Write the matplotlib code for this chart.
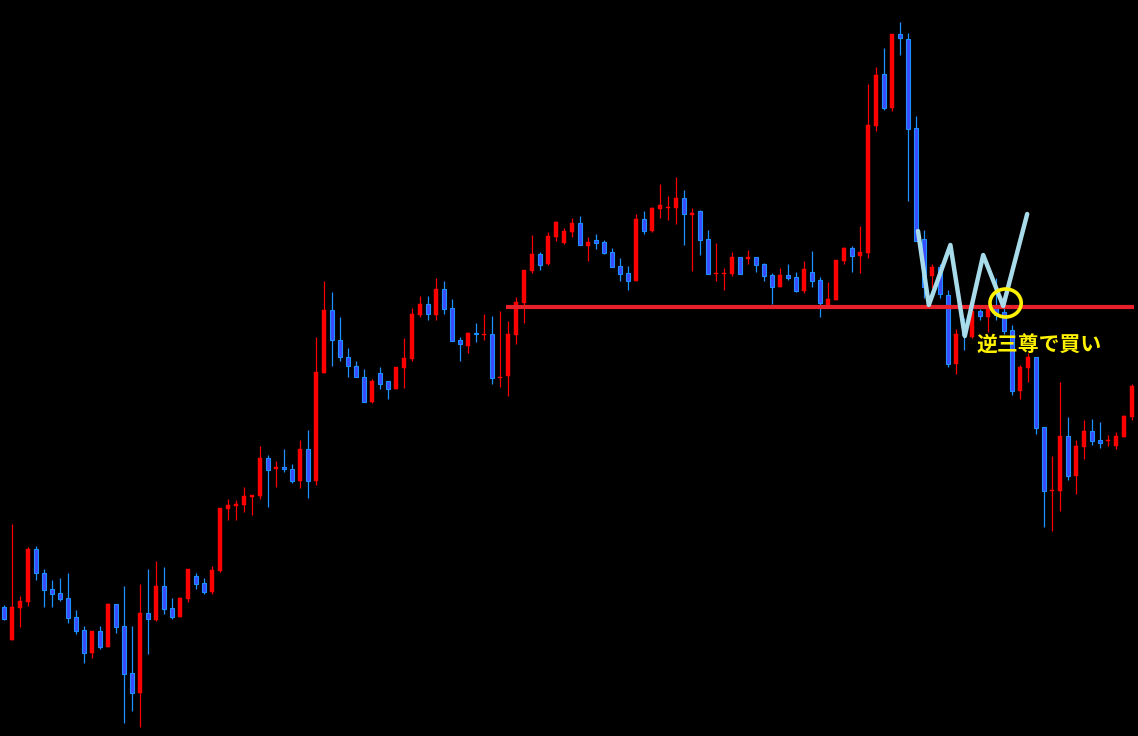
import matplotlib
matplotlib.use("Agg")
import matplotlib.pyplot as plt
from matplotlib.patches import Ellipse
import numpy as np

# OHLC values (arbitrary price units), one per candle
opens = [129, 96, 128, 134, 187, 163, 147, 143, 138, 119, 106, 83, 105, 89, 132, 110, 63, 43, 123, 116,
         150, 128, 119, 137, 160, 153, 144, 165, 227, 230, 231, 239, 240, 278, 267, 269, 267, 255, 287, 255,
         363, 426, 396, 379, 370, 359, 334, 363, 355, 347, 368, 377, 421, 432, 421, 447, 428, 396, 390, 403,
         401, 402, 358, 360, 401, 433, 465, 482, 472, 499, 493, 504, 513, 490, 496, 494, 484, 470, 463, 455,
         517, 505, 527, 528, 528, 538, 521, 525, 497, 462, 462, 462, 479, 477, 479, 472, 461, 449, 461, 459,
         445, 464, 456, 431, 436, 475, 488, 480, 483, 610, 662, 628, 702, 697, 608, 497, 460, 469, 441, 372,
         406, 399, 425, 419, 431, 424, 406, 345, 368, 379, 309, 245, 245, 300, 260, 289, 305, 296, 295, 290,
         299, 319]
highs = [131, 212, 140, 189, 190, 167, 156, 158, 163, 126, 110, 105, 110, 133, 132, 150, 110, 152, 167, 175,
         169, 138, 139, 167, 163, 158, 170, 228, 237, 236, 249, 241, 290, 281, 275, 287, 272, 296, 306, 399,
         455, 444, 419, 388, 375, 367, 357, 369, 355, 369, 398, 428, 440, 440, 458, 455, 437, 399, 404, 413,
         422, 420, 425, 415, 439, 466, 501, 484, 504, 515, 508, 518, 520, 499, 502, 496, 488, 478, 470, 522,
         525, 529, 552, 540, 559, 546, 528, 526, 506, 493, 468, 484, 479, 486, 479, 473, 463, 468, 472, 464,
         475, 485, 459, 454, 476, 489, 490, 510, 652, 669, 688, 702, 714, 703, 620, 506, 472, 472, 446, 407,
         418, 427, 427, 431, 458, 433, 411, 371, 383, 379, 309, 280, 354, 319, 296, 316, 317, 314, 301, 304,
         321, 352]
lows = [116, 96, 109, 130, 156, 129, 129, 135, 113, 102, 73, 78, 87, 89, 103, 13, 25, 9, 82, 115,
        122, 117, 119, 134, 147, 142, 142, 164, 216, 216, 224, 221, 237, 229, 249, 264, 253, 248, 238, 251,
        363, 370, 375, 359, 359, 334, 333, 347, 337, 347, 348, 375, 419, 416, 416, 422, 395, 375, 383, 394,
        396, 352, 349, 340, 392, 413, 463, 466, 471, 495, 492, 499, 491, 475, 487, 482, 469, 455, 446, 455,
        502, 504, 518, 516, 512, 491, 465, 481, 462, 455, 446, 460, 462, 472, 464, 455, 432, 449, 456, 444,
        443, 449, 419, 429, 436, 472, 464, 463, 478, 605, 626, 625, 681, 535, 495, 438, 448, 438, 369, 362,
        386, 398, 416, 404, 416, 402, 341, 337, 354, 302, 209, 205, 225, 256, 242, 277, 291, 288, 290, 287,
        299, 316]
closes = [117, 129, 135, 187, 163, 146, 142, 137, 118, 105, 83, 105, 89, 132, 109, 62, 43, 123, 117, 150,
          127, 119, 138, 167, 152, 144, 166, 228, 231, 232, 240, 241, 278, 266, 269, 267, 255, 287, 255, 364,
          426, 396, 379, 370, 359, 334, 355, 352, 347, 369, 378, 422, 432, 422, 447, 427, 395, 392, 403, 402,
          402, 358, 359, 402, 434, 466, 482, 471, 500, 514, 505, 513, 491, 494, 493, 483, 469, 462, 455, 517,
          505, 528, 531, 529, 538, 522, 523, 496, 462, 463, 463, 479, 462, 479, 471, 460, 449, 461, 458, 445,
          467, 455, 433, 437, 476, 488, 480, 484, 611, 661, 628, 702, 698, 607, 495, 449, 469, 442, 372, 402,
          401, 425, 420, 428, 421, 405, 345, 369, 379, 308, 245, 246, 300, 260, 290, 305, 295, 293, 296, 300,
          320, 350]

# annotation data
neckline_level = 429
neckline_span = [62.7, 141.2]
w_x = [114.25, 115.6, 118.3, 120.1, 122.4, 124.9, 127.9]
w_y = [505, 431, 491, 400, 481, 430, 522]
buy_point = (125.2, 433)
label_text = "逆三尊で買い"

UP_COLOR = "#FF0000"
DOWN_FILL = "#3B4CFF"
DOWN_EDGE = "#1E90FF"

fig = plt.figure(figsize=(11.38, 7.36), dpi=100, facecolor="black")
ax = fig.add_axes([0, 0, 1, 1])
ax.set_facecolor("black")

o = np.array(opens, float)
h = np.array(highs, float)
l = np.array(lows, float)
c = np.array(closes, float)
x = np.arange(len(o))
up = c >= o

# wicks
ax.vlines(x[up], l[up], h[up], color=UP_COLOR, linewidth=0.9, zorder=2)
ax.vlines(x[~up], l[~up], h[~up], color=DOWN_EDGE, linewidth=0.9, zorder=2)

# bodies
bottom = np.minimum(o, c)
height = np.maximum(np.abs(c - o), 1.2)
ax.bar(x[up], height[up], bottom=bottom[up], width=0.6, color=UP_COLOR,
       edgecolor=UP_COLOR, linewidth=0.3, zorder=3)
ax.bar(x[~up], height[~up], bottom=bottom[~up], width=0.6, color=DOWN_FILL,
       edgecolor=DOWN_EDGE, linewidth=0.8, zorder=3)

# neckline
ax.hlines(neckline_level, neckline_span[0], neckline_span[1], color="#E8202A",
          linewidth=3.0, zorder=4)

# inverse head & shoulders sketch
ax.plot(w_x, w_y, color="#A9DCEA", linewidth=3.2, solid_joinstyle="round",
        solid_capstyle="round", zorder=5)

# buy point circle
ax.add_patch(Ellipse(buy_point, width=3.9, height=28, fill=False,
                     edgecolor="#FFF200", linewidth=2.6, zorder=6))

ax.text(121.6, 391, label_text, color="#FFF200", fontsize=15, fontweight="bold",
        family=["Noto Sans CJK JP", "DejaVu Sans"], ha="left", va="center", zorder=7)

ax.set_xlim(-0.5, 141.75)
ax.set_ylim(0, 736)
ax.axis("off")

fig.savefig("out.png", dpi=100, facecolor="black")
